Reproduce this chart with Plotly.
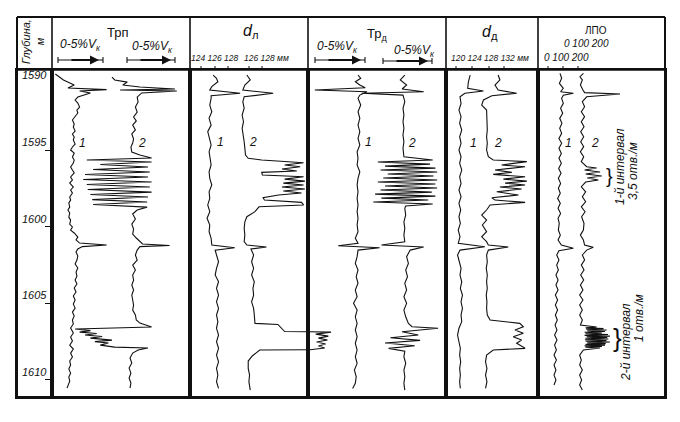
import plotly.graph_objects as go

# page: browser adds an 8 px body margin, so the figure is 672x414 and shifted
W, H, OFF = 672, 414, 8


def px(x):
    return (x - OFF) / W


def py(y):
    return 1 - (y - OFF) / H


# ---------------- data (depth in m, reading in track scale units) ----------------
DEPTH_TICKS = [1590, 1595, 1600, 1605, 1610]

# Trп track, scale in % Vk
TRP_1 = [(1590.03, -0.3), (1590.42, 0.6), (1590.75, 1.8), (1590.95, 1.1), (1591.05, 5.4), (1591.14, 2.4),
         (1591.27, 3.6), (1591.54, 2.2), (1591.73, 1.9), (1591.93, 2.2), (1592.19, 2.4), (1592.39, 2.1),
         (1592.58, 2.2), (1592.84, 1.9), (1593.04, 1.6), (1593.30, 1.8), (1593.50, 1.7), (1593.76, 1.9),
         (1593.95, 1.6), (1594.15, 1.8), (1594.35, 1.7), (1594.61, 1.9), (1594.80, 1.6), (1595.00, 1.4),
         (1595.20, 1.8), (1595.46, 1.6), (1595.65, 1.8), (1595.85, 1.7), (1596.11, 1.4), (1596.31, 1.6),
         (1596.50, 1.8), (1596.76, 1.4), (1596.96, 1.6), (1597.16, 1.3), (1597.42, 1.7), (1597.61, 1.4),
         (1597.81, 1.6), (1598.07, 1.3), (1598.27, 1.4), (1598.46, 1.2), (1598.73, 1.3), (1598.92, 1.1),
         (1599.12, 1.3), (1599.38, 1.2), (1599.58, 1.4), (1599.84, 1.3), (1600.03, 1.6), (1600.23, 1.4),
         (1600.42, 1.8), (1600.69, 2.2), (1600.88, 2.0), (1601.08, 2.4), (1601.21, 5.4), (1601.31, 2.7),
         (1601.47, 2.2), (1601.67, 2.0), (1601.93, 2.2), (1602.19, 2.1), (1602.45, 1.9), (1602.71, 2.2),
         (1602.97, 2.0), (1603.24, 2.1), (1603.50, 1.9), (1603.76, 2.1), (1604.02, 1.8), (1604.28, 2.0),
         (1604.54, 1.7), (1604.80, 1.9), (1605.07, 1.7), (1605.33, 1.9), (1605.59, 1.6), (1605.85, 1.8),
         (1606.11, 1.6), (1606.37, 1.7), (1606.63, 1.4), (1606.96, 1.7), (1607.22, 1.4), (1607.48, 1.6),
         (1607.75, 1.3), (1608.01, 1.7), (1608.27, 1.4), (1608.53, 1.6), (1608.79, 1.3), (1609.05, 1.4),
         (1609.31, 1.2), (1609.58, 1.4), (1609.84, 1.2), (1610.10, 1.3), (1610.36, 1.1), (1610.56, 1.0)]

TRP_2 = [(1590.23, 6.0), (1590.42, 6.3), (1590.56, 7.7), (1590.75, 7.2), (1590.88, 9.1), (1591.01, 13.0),
         (1591.08, 6.9), (1591.14, 13.2), (1591.27, 9.3), (1591.54, 8.8), (1591.86, 8.9), (1592.19, 8.6),
         (1592.52, 8.8), (1592.84, 8.4), (1593.10, 8.7), (1593.37, 8.3), (1593.69, 8.6), (1593.95, 8.2),
         (1594.28, 8.4), (1594.54, 8.3), (1594.80, 8.1), (1595.13, 8.2), (1595.33, 9.1), (1595.52, 10.4),
         (1595.65, 3.2), (1595.78, 10.4), (1595.95, 4.7), (1596.11, 10.0), (1596.27, 3.9), (1596.44, 10.2),
         (1596.60, 3.0), (1596.76, 10.0), (1596.93, 2.8), (1597.09, 10.4), (1597.25, 3.2), (1597.42, 10.2),
         (1597.58, 3.3), (1597.75, 10.4), (1597.91, 3.6), (1598.07, 10.0), (1598.24, 3.8), (1598.40, 9.9),
         (1598.56, 3.9), (1598.73, 9.9), (1598.92, 8.8), (1599.18, 8.3), (1599.51, 8.6), (1599.84, 8.2),
         (1600.16, 8.4), (1600.49, 8.3), (1600.75, 8.7), (1600.95, 9.1), (1601.14, 9.4), (1601.24, 12.4),
         (1601.31, 9.1), (1601.54, 8.8), (1601.86, 8.6), (1602.19, 8.8), (1602.52, 8.3), (1602.84, 8.6),
         (1603.17, 8.3), (1603.50, 8.4), (1603.82, 8.2), (1604.15, 8.4), (1604.48, 8.2), (1604.80, 8.3),
         (1605.13, 8.4), (1605.46, 8.3), (1605.78, 8.6), (1606.11, 8.7), (1606.31, 9.1), (1606.57, 10.4),
         (1606.70, 1.9), (1606.80, 3.6), (1606.90, 2.4), (1606.99, 4.3), (1607.09, 3.0), (1607.19, 4.9),
         (1607.29, 3.6), (1607.42, 6.0), (1607.52, 4.1), (1607.61, 5.6), (1607.75, 4.7), (1607.88, 6.3),
         (1607.94, 10.0), (1608.07, 8.9), (1608.27, 8.3), (1608.59, 8.0), (1608.92, 8.2), (1609.25, 7.9),
         (1609.58, 8.1), (1609.90, 7.9), (1610.23, 8.1), (1610.56, 8.0)]

# dл track, scale in mm
DL_1 = [(1590.10, 125.5), (1590.31, 126.0), (1590.54, 126.2), (1590.86, 125.3), (1591.08, 125.0),
        (1591.29, 129.5), (1591.45, 125.2), (1591.62, 125.2), (1592.06, 125.0), (1592.50, 125.3),
        (1592.93, 124.9), (1593.37, 125.2), (1593.80, 124.7), (1594.24, 125.0), (1594.67, 125.2),
        (1595.11, 124.9), (1595.54, 125.0), (1595.98, 125.2), (1596.42, 124.9), (1596.85, 125.0),
        (1597.29, 125.3), (1597.73, 124.9), (1598.16, 125.0), (1598.59, 124.7), (1599.03, 125.0),
        (1599.46, 124.6), (1599.90, 125.0), (1600.34, 124.9), (1600.77, 125.2), (1601.21, 125.3),
        (1601.39, 128.7), (1601.54, 125.8), (1601.86, 126.0), (1602.30, 126.3), (1602.73, 126.0),
        (1603.17, 125.8), (1603.61, 126.3), (1604.04, 126.0), (1604.48, 126.3), (1604.92, 126.0),
        (1605.35, 126.3), (1605.78, 126.0), (1606.22, 126.2), (1606.65, 126.0), (1607.09, 126.3),
        (1607.53, 126.0), (1607.96, 126.3), (1608.40, 126.0), (1608.84, 126.3), (1609.27, 126.0),
        (1609.71, 126.2), (1610.14, 126.0), (1610.58, 126.3)]

DL_2 = [(1590.10, 130.5), (1590.42, 131.0), (1590.75, 130.2), (1591.08, 129.9), (1591.29, 134.4),
        (1591.52, 130.1), (1591.84, 129.9), (1592.27, 130.1), (1592.71, 129.8), (1593.15, 130.0),
        (1593.58, 129.8), (1594.02, 130.0), (1594.46, 130.1), (1594.89, 130.2), (1595.33, 130.3),
        (1595.54, 130.7), (1595.65, 132.7), (1595.83, 138.9), (1595.98, 136.1), (1596.09, 138.4),
        (1596.24, 135.7), (1596.37, 137.9), (1596.46, 132.7), (1596.63, 132.8), (1596.75, 138.9),
        (1596.90, 136.1), (1597.03, 139.1), (1597.16, 135.9), (1597.29, 138.9), (1597.42, 135.7),
        (1597.55, 139.1), (1597.68, 135.9), (1597.81, 138.6), (1597.94, 135.2), (1598.12, 132.9),
        (1598.27, 133.1), (1598.42, 138.6), (1598.59, 138.9), (1598.71, 132.3), (1599.03, 131.7),
        (1599.36, 130.5), (1599.69, 130.2), (1600.12, 130.1), (1600.56, 130.2), (1600.99, 130.1),
        (1601.21, 130.5), (1601.34, 133.4), (1601.47, 131.1), (1601.86, 131.5), (1602.30, 131.2),
        (1602.73, 131.5), (1603.17, 131.2), (1603.61, 131.6), (1604.04, 131.4), (1604.48, 131.5),
        (1604.92, 131.2), (1605.35, 131.5), (1605.78, 131.6), (1606.22, 131.6), (1606.33, 131.7),
        (1606.40, 135.1), (1606.86, 136.1), (1606.90, 142.9), (1608.05, 142.9), (1608.07, 132.4),
        (1608.46, 131.3), (1608.79, 130.7), (1609.27, 130.7), (1609.71, 130.9), (1610.14, 130.8),
        (1610.69, 131.0)]

# off-scale part of dл curve 2, drawn over the left edge of the next track (Трд units)
DL_2_WRAP = [(1606.88, -0.6), (1606.90, 2.0), (1607.03, 0.3), (1607.16, 1.7), (1607.29, 0.6),
             (1607.42, 1.6), (1607.55, 0.4), (1607.68, 1.4), (1607.81, 0.6), (1607.94, 1.3),
             (1608.07, -0.6)]

# Трд track, scale in % Vk
TRD_1 = [(1590.10, 5.0), (1590.31, 5.3), (1590.54, 4.7), (1590.75, 5.2), (1590.93, 5.8), (1591.08, 0.2),
         (1591.19, 6.0), (1591.41, 5.2), (1591.62, 5.0), (1592.06, 5.3), (1592.50, 5.0), (1592.93, 5.2),
         (1593.37, 5.0), (1593.80, 5.2), (1594.24, 5.0), (1594.67, 5.2), (1595.11, 4.9), (1595.54, 5.0),
         (1595.98, 4.9), (1596.42, 5.2), (1596.85, 5.0), (1597.29, 4.9), (1597.73, 5.0), (1598.16, 4.9),
         (1598.59, 5.0), (1599.03, 4.9), (1599.46, 5.0), (1599.90, 4.9), (1600.34, 5.0), (1600.77, 4.7),
         (1601.10, 5.0), (1601.26, 2.8), (1601.39, 7.4), (1601.54, 5.0), (1601.97, 4.9), (1602.41, 4.7),
         (1602.84, 5.0), (1603.28, 4.8), (1603.71, 5.0), (1604.15, 4.7), (1604.59, 4.9), (1605.02, 4.5),
         (1605.46, 4.9), (1605.90, 4.7), (1606.33, 4.9), (1606.76, 4.7), (1607.20, 4.9), (1607.63, 4.7),
         (1608.07, 4.9), (1608.51, 4.7), (1608.94, 4.9), (1609.38, 4.6), (1609.82, 4.8), (1610.25, 4.7),
         (1610.58, 4.4)]

TRD_2 = [(1590.10, 10.2), (1590.42, 9.7), (1590.75, 10.4), (1591.01, 9.9), (1591.19, 12.3), (1591.29, 5.4),
         (1591.41, 10.0), (1591.84, 10.2), (1592.27, 10.0), (1592.71, 10.1), (1593.15, 10.0), (1593.58, 10.1),
         (1594.02, 10.0), (1594.46, 10.1), (1594.89, 10.0), (1595.44, 10.1), (1595.65, 13.3), (1595.78, 7.2),
         (1595.92, 13.0), (1596.05, 8.0), (1596.18, 13.6), (1596.31, 7.5), (1596.44, 13.8), (1596.57, 8.3),
         (1596.70, 13.4), (1596.83, 7.8), (1596.96, 13.8), (1597.09, 7.2), (1597.22, 13.6), (1597.35, 8.0),
         (1597.48, 13.8), (1597.61, 7.5), (1597.75, 13.2), (1597.88, 6.9), (1598.01, 13.6), (1598.14, 7.6),
         (1598.27, 12.8), (1598.40, 6.7), (1598.53, 13.3), (1598.66, 10.3), (1598.81, 10.2), (1599.25, 10.3),
         (1599.69, 10.1), (1600.12, 10.2), (1600.56, 10.1), (1600.99, 10.2), (1601.21, 7.6), (1601.34, 12.3),
         (1601.54, 10.8), (1601.97, 10.4), (1602.41, 10.6), (1602.84, 10.3), (1603.28, 10.5), (1603.71, 10.2),
         (1604.15, 10.4), (1604.59, 10.1), (1605.02, 10.4), (1605.46, 10.1), (1605.90, 10.3), (1606.33, 10.6),
         (1606.55, 11.0), (1606.65, 13.9), (1606.88, 9.9), (1607.09, 11.7), (1607.27, 8.6), (1607.44, 11.9),
         (1607.61, 8.0), (1607.79, 11.3), (1607.96, 8.4), (1608.14, 10.2), (1608.51, 10.1), (1608.94, 10.3),
         (1609.38, 10.1), (1609.82, 10.2), (1610.25, 10.1), (1610.69, 10.2)]

# dд track, scale in mm
DD_1 = [(1590.10, 124.9), (1590.54, 124.4), (1590.97, 124.2), (1591.14, 128.7), (1591.29, 123.4),
        (1591.52, 122.0), (1591.95, 122.3), (1592.39, 121.7), (1592.82, 122.3), (1593.25, 121.9),
        (1593.69, 122.5), (1594.13, 121.9), (1594.56, 122.3), (1595.00, 121.7), (1595.44, 122.3),
        (1595.87, 121.9), (1596.31, 122.5), (1596.75, 121.9), (1597.18, 122.3), (1597.61, 121.7),
        (1598.05, 122.3), (1598.48, 121.7), (1598.92, 122.2), (1599.36, 121.7), (1599.79, 122.1),
        (1600.23, 121.5), (1600.67, 122.0), (1601.10, 121.5), (1601.32, 129.1), (1601.54, 122.0),
        (1601.86, 121.3), (1602.30, 121.7), (1602.73, 122.3), (1603.17, 122.0), (1603.61, 122.5),
        (1604.04, 122.1), (1604.48, 122.7), (1604.92, 122.3), (1605.35, 122.7), (1605.78, 122.3),
        (1606.22, 122.5), (1606.65, 121.7), (1607.09, 121.3), (1607.53, 121.7), (1607.96, 122.1),
        (1608.40, 121.9), (1608.84, 122.2), (1609.27, 121.9), (1609.71, 122.1), (1610.14, 121.9),
        (1610.58, 122.1)]

DD_2 = [(1590.10, 132.9), (1590.42, 133.4), (1590.75, 132.0), (1591.08, 132.9), (1591.29, 138.2),
        (1591.45, 131.1), (1591.73, 128.7), (1592.06, 128.2), (1592.39, 129.6), (1592.82, 129.7),
        (1593.25, 129.6), (1593.69, 129.8), (1594.13, 129.6), (1594.56, 129.8), (1595.00, 129.6),
        (1595.44, 130.1), (1595.65, 131.5), (1595.76, 141.1), (1595.98, 133.9), (1596.09, 140.6),
        (1596.31, 132.0), (1596.46, 136.8), (1596.59, 131.5), (1596.75, 140.6), (1596.90, 134.4),
        (1597.03, 141.1), (1597.16, 134.9), (1597.29, 140.6), (1597.42, 133.4), (1597.55, 139.6),
        (1597.73, 132.5), (1597.94, 138.7), (1598.12, 131.1), (1598.27, 132.0), (1598.42, 140.6),
        (1598.59, 130.6), (1598.92, 129.6), (1599.25, 128.2), (1599.58, 129.6), (1599.90, 128.4),
        (1600.34, 129.6), (1600.67, 128.2), (1600.99, 129.6), (1601.21, 130.1), (1601.34, 135.8),
        (1601.54, 130.1), (1601.86, 129.6), (1602.30, 129.8), (1602.73, 129.5), (1603.17, 129.8),
        (1603.61, 129.6), (1604.04, 129.8), (1604.48, 129.5), (1604.92, 129.7), (1605.35, 129.6),
        (1605.78, 129.8), (1606.11, 130.6), (1606.33, 139.1), (1606.55, 140.1), (1606.76, 137.7),
        (1606.98, 140.1), (1607.20, 137.2), (1607.42, 139.6), (1607.63, 138.2), (1607.96, 140.6),
        (1608.07, 131.5), (1608.40, 129.6), (1608.84, 129.3), (1609.27, 129.7), (1609.71, 129.3),
        (1610.14, 129.7), (1610.58, 129.3)]

# ЛПО track
LPO_1 = [(1589.99, 80), (1590.31, 91), (1590.64, 76), (1590.97, 102), (1591.19, 84), (1591.29, 169),
         (1591.42, 102), (1591.62, 91), (1591.95, 102), (1592.27, 84), (1592.60, 98), (1592.93, 78),
         (1593.25, 93), (1593.58, 78), (1593.91, 91), (1594.24, 73), (1594.56, 91), (1594.89, 73),
         (1595.22, 89), (1595.54, 73), (1595.87, 89), (1596.20, 71), (1596.52, 87), (1596.85, 69),
         (1597.18, 84), (1597.50, 69), (1597.83, 82), (1598.16, 64), (1598.48, 82), (1598.81, 67),
         (1599.14, 84), (1599.46, 67), (1599.79, 75), (1600.23, 69), (1600.56, 82), (1600.88, 67),
         (1601.21, 89), (1601.42, 169), (1601.58, 73), (1601.86, 58), (1602.19, 73), (1602.52, 58),
         (1602.84, 69), (1603.17, 53), (1603.50, 67), (1603.82, 53), (1604.15, 67), (1604.48, 49),
         (1604.80, 64), (1605.13, 49), (1605.46, 64), (1605.78, 49), (1606.11, 62), (1606.44, 47),
         (1606.76, 60), (1607.09, 44), (1607.42, 60), (1607.75, 44), (1608.07, 56), (1608.40, 40),
         (1608.73, 56), (1609.05, 40), (1609.38, 53), (1609.71, 40), (1610.03, 53), (1610.36, 40)]

LPO_2 = [(1589.99, 236), (1590.21, 213), (1590.42, 229), (1590.75, 216), (1591.08, 233), (1591.25, 244),
         (1591.34, 480), (1591.52, 258), (1591.84, 229), (1592.17, 244), (1592.50, 222), (1592.82, 244),
         (1593.15, 222), (1593.48, 240), (1593.80, 218), (1594.13, 238), (1594.46, 218), (1594.78, 238),
         (1595.11, 216), (1595.44, 238), (1595.76, 222), (1596.09, 258), (1596.18, 324), (1596.31, 244),
         (1596.44, 347), (1596.57, 251), (1596.70, 358), (1596.83, 262), (1596.96, 336), (1597.09, 251),
         (1597.40, 222), (1597.73, 251), (1598.05, 229), (1598.38, 251), (1598.71, 222), (1599.03, 247),
         (1599.36, 224), (1599.79, 240), (1600.23, 236), (1600.56, 216), (1600.88, 236), (1601.21, 244),
         (1601.36, 302), (1601.54, 258), (1601.86, 229), (1602.19, 244), (1602.52, 222), (1602.84, 240),
         (1603.17, 218), (1603.50, 238), (1603.82, 216), (1604.15, 233), (1604.48, 211), (1604.80, 233),
         (1605.13, 211), (1605.46, 229), (1605.78, 211), (1606.11, 229), (1606.44, 216), (1606.57, 324),
         (1606.62, 251), (1606.67, 370), (1606.71, 255), (1606.76, 391), (1606.81, 262), (1606.86, 380),
         (1606.91, 244), (1606.96, 358), (1607.01, 250), (1607.06, 400), (1607.11, 244), (1607.16, 413),
         (1607.20, 258), (1607.25, 395), (1607.30, 250), (1607.35, 402), (1607.40, 246), (1607.45, 390),
         (1607.50, 251), (1607.55, 413), (1607.60, 262), (1607.65, 385), (1607.70, 250), (1607.75, 380),
         (1607.80, 244), (1607.84, 360), (1607.89, 250), (1607.94, 347), (1608.07, 236), (1608.40, 211),
         (1608.73, 222), (1609.05, 211), (1609.38, 229), (1609.71, 211), (1610.03, 224), (1610.36, 211),
         (1610.69, 229)]

DL_SCALE_LABELS = ["124 126 128", "126 128 мм"]
DD_SCALE_LABELS = ["120 124 128 132 мм"]
LPO_SCALE_LABELS = ["0 100 200"]

# ---------------- figure ----------------
FONT = "Liberation Sans Narrow, Liberation Sans, Arial, sans-serif"
INK = "#111111"
Y_DOM = [py(397), py(70)]
Y_RANGE = [1611.14, 1589.77]

fig = go.Figure()

tracks = [
    # axis id, px left, px right, range, curves
    ("", 17, 52, [0, 1], []),
    ("2", 52, 190, [-0.67, 14.67], [TRP_1, TRP_2]),
    ("3", 190, 308, [122.07, 139.56], [DL_1, DL_2]),
    ("4", 308, 446, [-0.56, 14.78], [TRD_1, TRD_2, DL_2_WRAP]),
    ("5", 446, 538, [118.0, 144.29], [DD_1, DD_2]),
    ("6", 538, 665, [-66.7, 780.0], [LPO_1, LPO_2]),
]

layout_axes = {}
for aid, l, r, rng, curves in tracks:
    xa = "xaxis" + aid
    ya = "yaxis" + aid
    layout_axes[xa] = dict(domain=[px(l), px(r)], range=rng, anchor="y" + aid,
                           showline=True, mirror=True, linecolor=INK, linewidth=1.6,
                           showgrid=False, zeroline=False, showticklabels=False, ticks="",
                           fixedrange=True)
    yd = dict(domain=Y_DOM, anchor="x" + aid, showline=True, mirror=True, linecolor=INK,
              linewidth=1.6, showgrid=False, zeroline=False, showticklabels=False,
              fixedrange=True)
    if aid == "":
        yd.update(range=Y_RANGE, side="right", ticks="inside", ticklen=7, tickwidth=1.2,
                  tickcolor=INK, tickvals=DEPTH_TICKS[1:])
    else:
        yd.update(matches="y", ticks="")
    layout_axes[ya] = yd
    if not curves:
        fig.add_trace(go.Scatter(x=[], y=[], xaxis="x" + aid, yaxis="y" + aid,
                                 showlegend=False, hoverinfo="skip"))
    for c in curves:
        depth = [p[0] for p in c]
        val = [p[1] for p in c]
        fig.add_trace(go.Scatter(x=val, y=depth, mode="lines", xaxis="x" + aid,
                                 yaxis="y" + aid, line=dict(color=INK, width=1.1),
                                 showlegend=False, hoverinfo="skip"))

annotations = []


def label(text, x, y, size=11, angle=0, xanchor="center", italic=True):
    annotations.append(dict(text=text, x=px(x), y=py(y), xref="paper", yref="paper",
                            showarrow=False, xanchor=xanchor, yanchor="middle",
                            textangle=angle,
                            font=dict(family=FONT, size=size, color=INK,
                                      style="italic" if italic else "normal")))


# depth labels
for d in DEPTH_TICKS:
    annotations.append(dict(text=str(d), x=px(49), y=d, xref="paper", yref="y",
                            xanchor="right", yanchor="middle", showarrow=False,
                            yshift=-1 if d == DEPTH_TICKS[0] else 8,
                            font=dict(family=FONT, size=11, color=INK, style="italic")))

# header text
label("Глубина,<br>м", 33, 42, size=11, angle=-90)
label("Трп", 117, 32, size=13, italic=False)
label("0-5%V<sub>к</sub>", 80, 45, size=12)
label("0-5%V<sub>к</sub>", 152, 47, size=12)
label("<i>d</i><sub>л</sub>", 250, 31, size=16, italic=False)
label(DL_SCALE_LABELS[0], 215, 58, size=8.5)
label(DL_SCALE_LABELS[1], 266, 58, size=8.5)
label("0-5%V<sub>к</sub>", 337, 47, size=12)
label("Тр<sub>д</sub>", 377, 34, size=13, italic=False)
label("0-5%V<sub>к</sub>", 414, 51, size=12)
label("<i>d</i><sub>д</sub>", 490, 32, size=16, italic=False)
label(DD_SCALE_LABELS[0], 490, 58, size=8.5)
label("ЛПО", 596, 30, size=10, italic=False)
label(LPO_SCALE_LABELS[0], 586, 43, size=10)
label(LPO_SCALE_LABELS[0], 566, 58, size=10)

# curve numbers
for t, x, y in [("1", 82, 143), ("2", 142, 143), ("1", 220, 142), ("2", 253, 142),
                ("1", 368, 142), ("2", 412, 143), ("1", 473, 143), ("2", 498, 143),
                ("1", 568, 143), ("2", 595, 143)]:
    label(t, x, y, size=12)

# interval annotations
label("}", 609, 176, size=20, italic=False)
label("1-й интервал", 620, 167, size=12, angle=-90)
label("3,5 отв./м", 633, 171, size=12, angle=-90)
label("}", 617, 338, size=26, italic=False)
label("2-й интервал", 626, 342, size=12, angle=-90)
label("1 отв./м", 639, 318, size=12, angle=-90)

# header frame + scale arrows
shapes = []


def line(x0, y0, x1, y1, w=1.5):
    shapes.append(dict(type="line", xref="paper", yref="paper", x0=px(x0), y0=py(y0),
                       x1=px(x1), y1=py(y1), line=dict(color=INK, width=w)))


line(17, 17, 665, 17, 2)
line(17, 70, 665, 70, 1.6)
line(17, 17, 17, 397, 2)
line(665, 17, 665, 397, 2)
line(17, 397, 665, 397, 2)
for xv in [52, 190, 308, 446, 538]:
    line(xv, 17, xv, 70, 1.6)

for (a, b, y) in [(58, 103, 60), (127, 175, 60), (315, 365, 60), (383, 432, 61)]:
    line(a, y, b, y, 1.1)
    line(a, y - 3, a, y + 3, 1.1)
    line(b, y - 3, b, y + 3, 1.1)
    annotations.append(dict(text="", x=px(b - 4), y=py(y), ax=-(b - a - 16), ay=0,
                            xref="paper", yref="paper", axref="pixel", ayref="pixel",
                            showarrow=True, arrowhead=2, arrowsize=0.9, arrowwidth=2.0,
                            arrowcolor=INK))

# small scale ticks at bottom of header
for xv in [201, 215, 228, 249, 262, 456, 472, 489, 504, 548, 563, 578]:
    line(xv, 66, xv, 70, 1)

fig.update_layout(
    width=W, height=H, margin=dict(l=0, r=0, t=0, b=0),
    paper_bgcolor="white", plot_bgcolor="white",
    showlegend=False, annotations=annotations, shapes=shapes,
    **layout_axes,
)

fig.write_html("out.html")
